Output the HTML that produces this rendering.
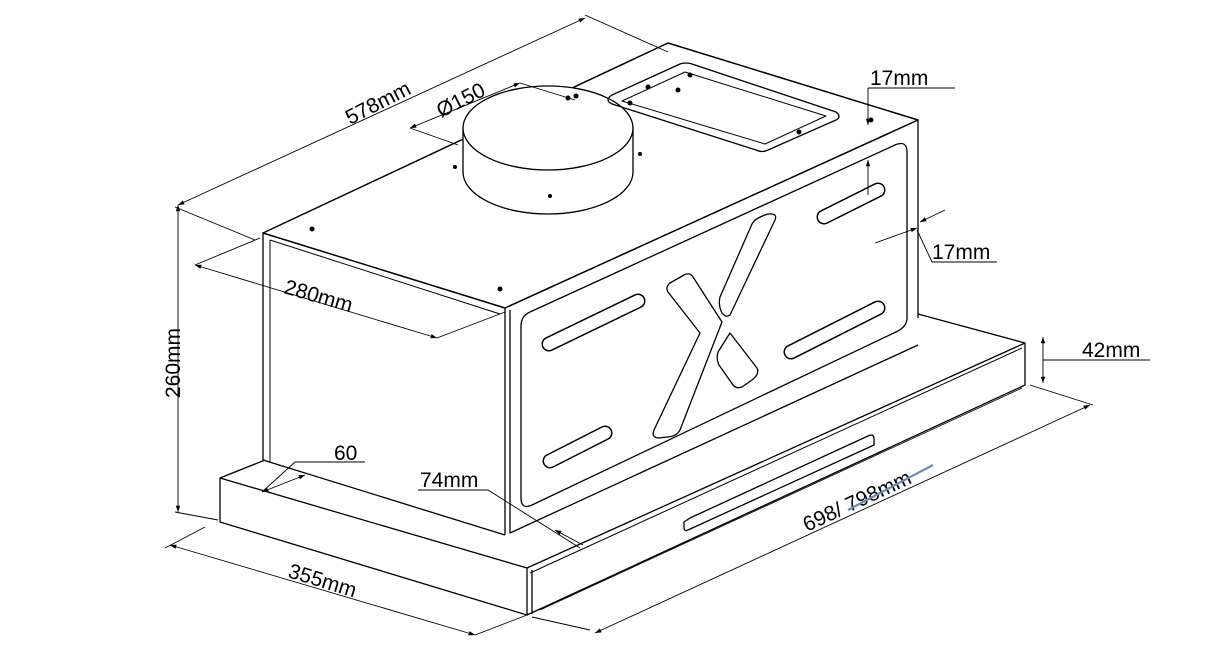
<!DOCTYPE html>
<html><head><meta charset="utf-8"><style>
html,body{margin:0;padding:0;background:#fff;width:1205px;height:659px;overflow:hidden}
svg text{font-family:"Liberation Sans",Arial,sans-serif;font-size:21px;fill:#000}
</style></head><body>
<svg width="1205" height="659" viewBox="0 0 1205 659" xmlns="http://www.w3.org/2000/svg">
<defs>
<marker id="a" viewBox="0 0 10 10" refX="10" refY="5" markerWidth="9" markerHeight="7" orient="auto-start-reverse"><path d="M0,1.5 L10,5 L0,8.5z" fill="#000"/></marker>
</defs>
<g fill="none" stroke="#000" stroke-width="1.3" stroke-linejoin="round">
<!-- base -->
<path d="M220,478 L265,460 M220,478 L527,568 L1025,343 L1025,385 L527,615 L220,522 Z"/>
<path d="M527,568 L527,615 M532,570 L532,614"/>
<path d="M1025,343 L918,314"/>
<path d="M530,573 L1022,348" stroke-width="1"/>
<path d="M540,610 L1022,388" stroke-width="0.8"/>
<!-- box -->
<path d="M263,233 L668,43 L918,120 L505,308 Z" stroke-width="1.5"/>
<path d="M263,233 L263,460 M505,308 L505,535 M918,120 L918,318 M510,310 L510,533 L918,345"/>
<path d="M270,240 L270,462 M270,240 L500,314" stroke-width="1"/>
<path d="M263,460 L505,535"/>
<!-- panel -->
<path d="M530,312 L895,145 Q907,140 907,152 L907,318 Q907,326 898,331 L532,505 Q521,510 521,498 L521,326 Q521,316 530,312 Z"/>
<!-- duct -->
<path d="M463,128 L463,172 A85,42 0 0 0 633,172 L633,128 Z" fill="#fff"/>
<ellipse cx="548" cy="128" rx="85" ry="42" fill="#fff"/>
<!-- hatch -->
<path d="M612,95 L680,64 Q686,62 692,64 L836,112 Q842,117 836,120 L768,150 Q762,153 756,150 L612,104 Q604,100 612,95 Z"/>
<path d="M622,101 L685,72 L826,116 L765,144 Z" stroke-width="1"/>
<!-- X -->
<path d="M670,283 L684,275 Q690,272 693,277 L722,322 L680,430 Q677,436 668,437 L658,438 Q651,437 654,430 L700,333 L668,292 Q665,287 670,283 Z"/>
<path d="M720,297 L752,224 Q755,218 768,214 Q778,213 775,220 L730,315 Q726,318 722,313 Q718,305 720,297 Z"/>
<path d="M730,333 L757,368 Q760,374 752,380 L742,387 Q736,389 733,385 L719,365 Q716,358 718,352 Z"/>
<!-- base slot -->
<path d="M690,518 L868,436 Q874,433 874,439 L874,445 L688,530 Q684,532 684,527 L684,522 Z"/>
</g>
<!-- slots -->
<g stroke-linecap="round" fill="none">
<g stroke="#000" stroke-width="15">
<path d="M549,344 L638,301"/><path d="M550,461 L605,433"/><path d="M791,352 L878,308"/><path d="M824,217 L878,190"/>
</g>
<g stroke="#fff" stroke-width="12">
<path d="M549,344 L638,301"/><path d="M550,461 L605,433"/><path d="M791,352 L878,308"/><path d="M824,217 L878,190"/>
</g>
</g>
<!-- screws -->
<g fill="#000">
<circle cx="312" cy="229" r="2.5"/><circle cx="500" cy="289" r="2.5"/><circle cx="455" cy="167" r="2"/><circle cx="550" cy="196" r="2"/><circle cx="640" cy="154" r="2"/><circle cx="678" cy="90" r="2.5"/><circle cx="871" cy="120" r="2.5"/><circle cx="648" cy="87" r="2.5"/><circle cx="630" cy="103" r="2.5"/><circle cx="690" cy="75" r="2.5"/><circle cx="799" cy="132" r="2.5"/><circle cx="568" cy="98" r="2.5"/><circle cx="576" cy="96" r="2.5"/>
</g>
<!-- dimension lines -->
<g fill="none" stroke="#000" stroke-width="0.9">
<path d="M178,205 L585,18" marker-start="url(#a)" marker-end="url(#a)"/>
<path d="M175,207 L255,240 M585,15 L668,52"/>
<path d="M178,205 L178,512" marker-start="url(#a)" marker-end="url(#a)"/>
<path d="M175,512 L218,520"/>
<path d="M195,265 L437,338" marker-start="url(#a)" marker-end="url(#a)"/>
<path d="M195,265 L260,238 M437,338 L505,312"/>
<path d="M410,128 L520,83" marker-start="url(#a)" marker-end="url(#a)"/>
<path d="M520,83 L575,100 M410,128 L458,145"/>
<path d="M170,545 L475,635" marker-start="url(#a)" marker-end="url(#a)"/>
<path d="M165,548 L205,527 M475,635 L527,615"/>
<path d="M595,633 L1090,405" marker-start="url(#a)" marker-end="url(#a)"/>
<path d="M590,630 L532,617 M1093,405 L1030,385"/>
<path d="M1043,337 L1043,383" marker-start="url(#a)" marker-end="url(#a)"/>
<path d="M1043,360 L1150,360"/>
<path d="M868,88 L868,125" marker-end="url(#a)"/>
<path d="M868,88 L955,88"/>
<path d="M868,195 L868,160" marker-end="url(#a)"/>
<path d="M875,243 L917,228" marker-end="url(#a)"/>
<path d="M945,210 L920,222" marker-end="url(#a)"/>
<path d="M917,230 L932,262 L997,262"/>
<path d="M262,492 L295,462 L365,462"/>
<path d="M262,492 L305,475" marker-start="url(#a)" marker-end="url(#a)"/>
<path d="M418,490 L488,490 L580,548"/>
<path d="M555,530 L583,545" marker-start="url(#a)"/>
</g>
<!-- labels -->
<text transform="translate(350,125) rotate(-27)">578mm</text>
<text transform="translate(441,118) rotate(-27)">Ø150</text>
<text transform="translate(283,293) rotate(16)">280mm</text>
<text transform="translate(180,398) rotate(-90)">260mm</text>
<text x="334" y="460">60</text>
<text x="420" y="487">74mm</text>
<text transform="translate(287,577) rotate(17)">355mm</text>
<text transform="translate(807,532) rotate(-25)">698/ 798mm</text>
<text x="870" y="85">17mm</text>
<text x="932" y="259">17mm</text>
<text x="1082" y="357">42mm</text>
<path d="M848,510 L933,465" stroke="#6a8ab5" stroke-width="2.2" fill="none"/>
</svg>
</body></html>
